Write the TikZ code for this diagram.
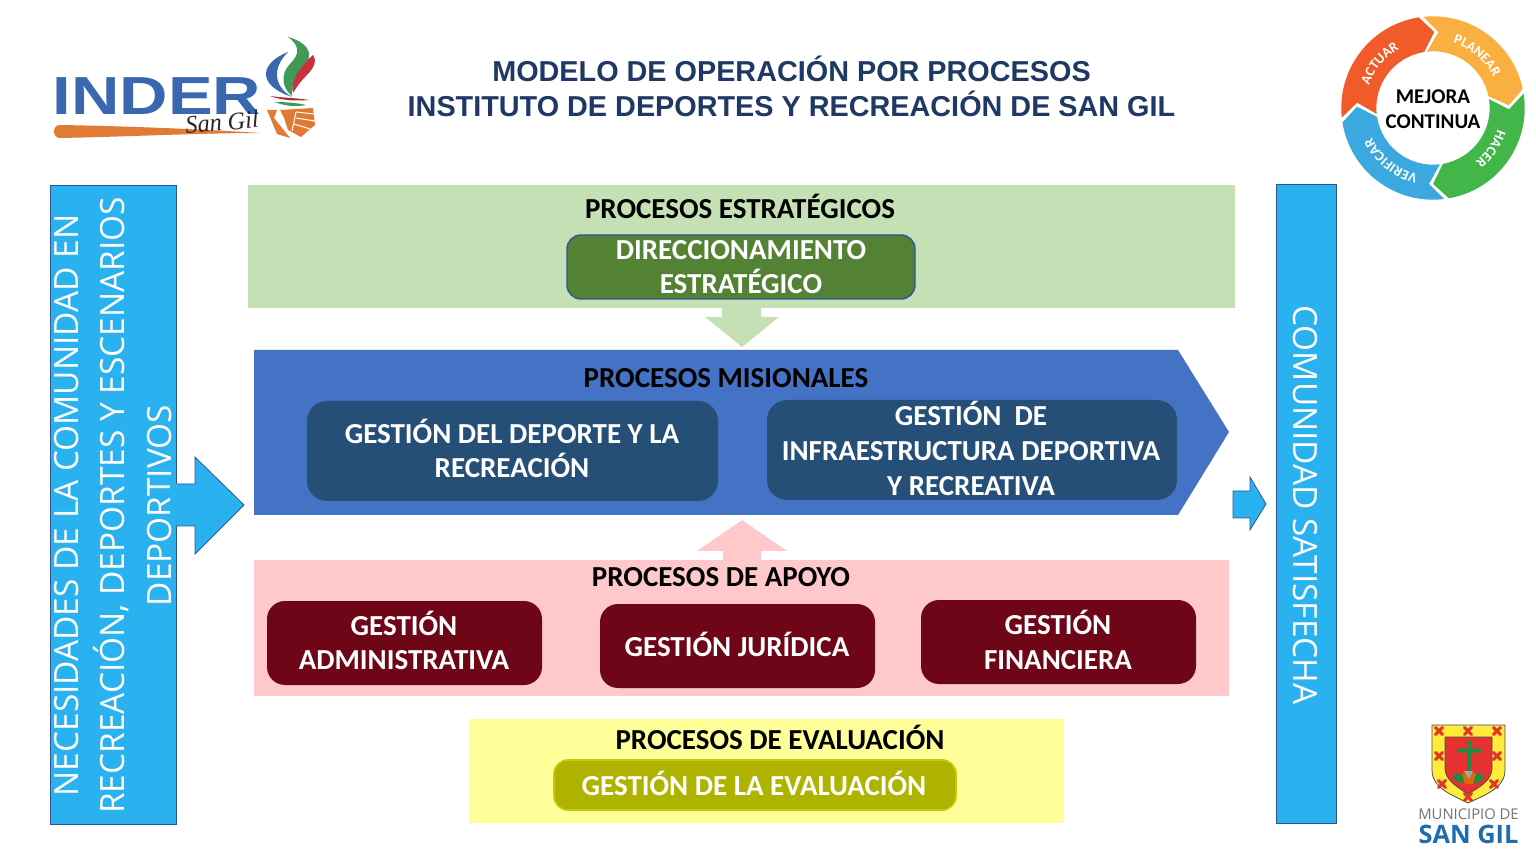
\documentclass[tikz,border=0pt]{standalone}
\usepackage{fontspec}
\setmainfont{Carlito}
\newfontfamily\titlefont{Liberation Sans}
\newfontfamily\sidefont{Open Sans}
\newfontfamily\sangilfont{Liberation Serif}
\usetikzlibrary{decorations.text}
\definecolor{sky}{HTML}{29B2EF}
\definecolor{edgeblue}{HTML}{2F5597}
\definecolor{gband}{HTML}{C5E0B4}
\definecolor{gbox}{HTML}{548235}
\definecolor{bband}{HTML}{4472C4}
\definecolor{bbox}{HTML}{264F78}
\definecolor{pband}{HTML}{FFC9CB}
\definecolor{pbox}{HTML}{6F0618}
\definecolor{yband}{HTML}{FFFF99}
\definecolor{ybox}{HTML}{AEB300}
\definecolor{titleblue}{HTML}{1F3864}
\definecolor{cyO}{HTML}{F15A29}
\definecolor{cyY}{HTML}{F9B040}
\definecolor{cyG}{HTML}{43B649}
\definecolor{cyB}{HTML}{3BA9E0}
\definecolor{logoB}{HTML}{3A68B0}
\definecolor{logoO}{HTML}{E07A35}
\definecolor{logoG}{HTML}{3F9A58}
\definecolor{logoR}{HTML}{C8323A}
\definecolor{shY}{HTML}{FFEB3B}
\definecolor{shR}{HTML}{E5312F}
\definecolor{shG}{HTML}{1E8A46}
\definecolor{sgB}{HTML}{1F6DB0}
\tikzset{
 x=0.5pt,y=-0.5pt,
 head/.style={font=\bfseries\fontsize{14.5}{17}\selectfont,text=black,inner sep=0pt},
 inbox/.style={font=\bfseries\fontsize{14.5}{17.3}\selectfont,text=white,align=center,inner sep=0pt},
 sidetxt/.style={font=\sidefont\fontsize{16.7}{23.3}\selectfont,text=white,align=center,rotate=90,inner sep=0pt},
 maintitle/.style={font=\titlefont\bfseries\fontsize{14.4}{17.2}\selectfont,text=titleblue,align=center,inner sep=0pt},
 crossmark/.style={draw=shR,line width=1.5pt,line cap=round},
}
\newcommand{\cycseg}[3]{% start angle, end angle, colour
 \fill[#3] (#1:91.7) arc[start angle=#1,end angle=#2,radius=91.7]
   -- ({#2-10}:76) -- (#2:56.7)
   arc[start angle=#2,end angle=#1,radius=56.7]
   -- ({#1-10}:76) -- cycle;}
\newcommand{\cycword}[3]{% start, end, word
 \path[decorate,decoration={text along path,text align=center,
   text={|\bfseries\fontsize{7}{8}\selectfont\color{white}|#3}}]
   (#1:68) arc[start angle=#1,end angle=#2,radius=68];}
\newcommand{\xmark}[2]{\draw[crossmark] (#1-3.5,#2-3.5) -- (#1+3.5,#2+3.5) (#1-3.5,#2+3.5) -- (#1+3.5,#2-3.5);}
\begin{document}
\begin{tikzpicture}
\useasboundingbox (0,0) rectangle (1536,865);
% title
\node[maintitle] (title) at (791.5,86.5) {MODELO DE OPERACIÓN POR PROCESOS\\INSTITUTO DE DEPORTES Y RECREACIÓN DE SAN GIL};
% side boxes
\draw[fill=sky,draw=edgeblue,line width=0.5pt] (50,186) rectangle (176,824);
\node[sidetxt] (needs) at (113,505.5) {NECESIDADES DE LA COMUNIDAD EN\\RECREACIÓN, DEPORTES Y ESCENARIOS\\DEPORTIVOS};
\draw[fill=sky,draw=edgeblue,line width=0.5pt] (1276,185) rectangle (1336,823);
\node[sidetxt,rotate=180] (sat) at (1305,505) {COMUNIDAD SATISFECHA};
% block arrows
\draw[fill=sky,draw=edgeblue,line width=0.4pt] (176,484) -- (195,484) -- (195,457) -- (244,505) -- (195,554) -- (195,526) -- (176,526);
\fill[sky] (170,484.5) rectangle (178,525.5);
\draw[fill=sky,draw=edgeblue,line width=0.4pt] (1233,491) -- (1250,491) -- (1250,477) -- (1266,504) -- (1250,530) -- (1250,518) -- (1233,518) -- cycle;
% strategic
\fill[gband] (248,185) rectangle (1235,308);
\fill[gband] (722,306) -- (761,306) -- (761,317) -- (779,317) -- (742,347) -- (705,317) -- (722,317) -- cycle;
\node[head] (est) at (740,206) {PROCESOS ESTRATÉGICOS};
\draw[fill=gbox,draw=edgeblue,line width=0.7pt,rounded corners=7pt] (567,235) rectangle (915,299);
\node[inbox] (dir) at (741,267) {DIRECCIONAMIENTO\\ESTRATÉGICO};
% missional
\fill[bband] (254,350) -- (1178,350) -- (1229,432) -- (1178,515) -- (254,515) -- cycle;
\node[head] (mis) at (726,378) {PROCESOS MISIONALES};
\fill[bbox,rounded corners=10pt] (307,401) rectangle (718,501);
\node[inbox] (dep) at (512,448.5) {GESTIÓN DEL DEPORTE Y LA\\RECREACIÓN};
\fill[bbox,rounded corners=10pt] (767,400) rectangle (1177,500);
\node[inbox] (inf) at (971,448.5) {GESTIÓN\ \ DE\\INFRAESTRUCTURA DEPORTIVA\\Y RECREATIVA};
% support
\fill[pband] (723,562) -- (723,551) -- (697,551) -- (742,520) -- (787,551) -- (761,551) -- (761,562) -- cycle;
\fill[pband] (254,560) rectangle (1229,696);
\node[head] (apo) at (721,577) {PROCESOS DE APOYO};
\fill[pbox,rounded corners=9pt] (267,601) rectangle (542,685);
\node[inbox] (adm) at (404,640.5) {GESTIÓN\\ADMINISTRATIVA};
\fill[pbox,rounded corners=9pt] (600,604) rectangle (875,688);
\node[inbox] (jur) at (737,644) {GESTIÓN JURÍDICA};
\fill[pbox,rounded corners=9pt] (921,600) rectangle (1196,684);
\node[inbox] (fin) at (1058,640) {GESTIÓN\\FINANCIERA};
% evaluation
\fill[yband] (469,719) rectangle (1064,823);
\node[head] (eva) at (780,737.5) {PROCESOS DE EVALUACIÓN};
\draw[fill=ybox,draw=ybox!70!yellow,line width=0.8pt,rounded corners=7pt] (554,760) rectangle (956,810);
\node[inbox] (gev) at (754,783) {GESTIÓN DE LA EVALUACIÓN};
% cycle
\begin{scope}[shift={(1433,108)},y=0.5pt]
 \cycseg{186}{99}{cyO}
 \cycseg{96}{12}{cyY}
 \cycseg{9}{-80}{cyG}
 \cycseg{-83}{-171}{cyB}
 \cycword{170}{110}{ACTUAR}
 \cycword{80}{20}{PLANEAR}
 \cycword{-5}{-65}{HACER}
 \cycword{-92}{-165}{VERIFICAR}
\end{scope}
\node[font=\bfseries\fontsize{10.5}{12.6}\selectfont,align=center,inner sep=0pt] (mej) at (1433,109) {MEJORA\\CONTINUA};
% INDER logo
\node[font=\titlefont\bfseries\fontsize{26.8}{27}\selectfont,text=logoB,inner sep=0pt,xscale=1.25] (ind) at (157,96) {INDER};
\fill[logoO] (260,133) .. controls (200,133) and (120,137) .. (60,138) .. controls (52,138) and (52,125) .. (60,125) .. controls (120,126) and (200,129) .. (260,133) -- cycle;
\node[font=\sangilfont\itshape\fontsize{12.5}{13}\selectfont,text=black!85,inner sep=0pt,rotate=5,xscale=0.97] (sg) at (222,122) {San Gil};
\fill[logoB] (288,52) .. controls (262,62) and (254,84) .. (292,97) .. controls (276,88) and (270,70) .. (288,52) -- cycle;
\fill[logoG] (288,37) .. controls (306,42) and (314,52) .. (306,64) .. controls (298,74) and (291,82) .. (292,96) .. controls (282,88) and (280,74) .. (290,64) .. controls (300,54) and (300,46) .. (288,37) -- cycle;
\fill[logoR] (313,55) .. controls (318,62) and (312,70) .. (306,76) .. controls (300,82) and (296,88) .. (293,93) .. controls (290,84) and (298,68) .. (313,55) -- cycle;
\fill[logoR!85!black] (270,96) .. controls (284,98) and (298,98) .. (309,100) .. controls (296,101) and (284,101) .. (270,96) -- cycle;
\fill[logoG] (275,102) .. controls (286,102) and (298,103) .. (306,105) .. controls (296,107) and (284,106) .. (275,102) -- cycle;
\fill[logoO] (280,110) -- (313,108) -- (315,125) -- (301,137) -- (288,130) -- (284,118) -- cycle;
\fill[logoO] (267,110) -- (277,110) -- (274,118) -- (290,138) -- (277,134) -- cycle;
\draw[white,line width=0.5pt] (296,112) -- (314,114) (296,118) -- (315,121) (294,124) -- (310,129) (296,112) -- (292,131);
% shield
\draw[fill=shY,draw=black!70,line width=0.4pt] (1432,725) -- (1505,725) -- (1505,770) .. controls (1505,788) and (1485,795) .. (1468,803) .. controls (1452,795) and (1432,788) .. (1432,770) -- cycle;
\draw[fill=shR,draw=black!70,line width=0.4pt] (1445,737) -- (1492,737) -- (1492,768) .. controls (1492,780) and (1480,787) .. (1468,794) .. controls (1457,787) and (1445,780) .. (1445,768) -- cycle;
\fill[shG] (1467,741) rectangle (1471,772) (1457,748.5) rectangle (1482,752.5);
\fill[shG] (1453,776) .. controls (1458,771) and (1462,773) .. (1466,780) .. controls (1462,785) and (1457,784) .. (1453,776) -- cycle;
\fill[shG] (1484,776) .. controls (1479,771) and (1475,773) .. (1471,780) .. controls (1475,785) and (1480,784) .. (1484,776) -- cycle;
\fill[orange!85!black] (1462,773) -- (1476,773) -- (1473,784) -- (1465,784) -- cycle;
\fill[black!35] (1464,771) -- (1473,771) -- (1469,779) -- cycle;
\xmark{1439}{731}\xmark{1468}{731}\xmark{1497}{731}
\xmark{1439}{756}\xmark{1497}{756}
\xmark{1442}{784}\xmark{1494}{784}\xmark{1468}{797}
\node[font=\sidefont\fontsize{7.4}{9}\selectfont,text=black!55,inner sep=0pt] (mun) at (1468.5,814) {MUNICIPIO DE};
\node[font=\sidefont\bfseries\fontsize{12.7}{13}\selectfont,text=sgB,inner sep=0pt] (sgl) at (1468.5,834) {SAN GIL};
\end{tikzpicture}
\end{document}
